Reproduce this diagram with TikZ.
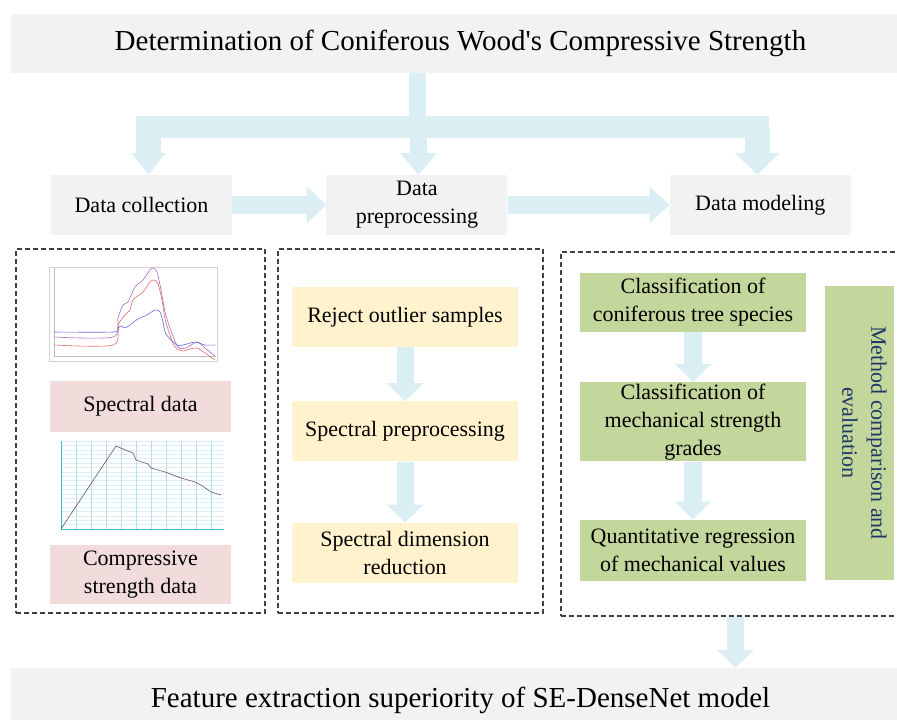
\documentclass[tikz,border=0pt]{standalone}
\usepackage{fontspec}
\setmainfont{Liberation Serif}
\usetikzlibrary{arrows.meta, positioning}

\definecolor{boxgray}{HTML}{F2F2F2}
\definecolor{flowblue}{HTML}{DAEEF3}
\definecolor{pinkbox}{HTML}{F2DCDB}
\definecolor{yellowbox}{HTML}{FFF2CC}
\definecolor{greenbox}{HTML}{C3D69B}
\definecolor{darkblue}{HTML}{1F3864}
\definecolor{dashgray}{HTML}{404040}
\definecolor{specpurple}{HTML}{A86CC8}
\definecolor{specred}{HTML}{E46A6A}
\definecolor{specblue}{HTML}{6A6AD8}
\definecolor{gridblue}{HTML}{B4DDF0}
\definecolor{gridfaint}{HTML}{DCEFF8}
\definecolor{axiscyan}{HTML}{3CB8D8}

\tikzstyle{title} = [rectangle, fill=boxgray, minimum width=899pt, inner sep=0pt, font=\fontsize{29}{34}\selectfont]
\tikzstyle{stage} = [rectangle, fill=boxgray, minimum width=181pt, minimum height=60pt, inner sep=0pt, align=center, font=\fontsize{22}{28}\selectfont]
\tikzstyle{item} = [rectangle, minimum width=226pt, inner sep=0pt, align=center, font=\fontsize{22}{28}\selectfont]
\tikzstyle{group} = [rectangle, draw=dashgray, line width=1.3pt, dash pattern=on 5pt off 3pt, inner sep=0pt]
\tikzstyle{flow} = [draw=flowblue, -{Triangle[length=19pt,width=35pt]}]

\begin{document}
\begin{tikzpicture}[x=1pt,y=-1pt]
\useasboundingbox (0,0) rectangle (897,720);

% head and result
\node (top) [title, minimum height=59pt] at (460.5,43.5) {Determination of Coniferous Wood\textquotesingle s Compressive Strength};
\node (fin) [title, minimum height=64pt] at (460.5,700) {Feature extraction superiority of SE-DenseNet model};

% three stages
\node (dc) [stage] at (141.5,205) {Data collection};
\node (dp) [stage, right=94pt of dc] {Data\\preprocessing};
\node (dm) [stage, right=162pt of dp] {Data modeling};

% dashed groups
\node (grpA) [group, minimum width=249pt, minimum height=364pt] at (140.5,431) {};
\node (grpB) [group, minimum width=265pt, minimum height=364pt] at (410.5,431) {};
\node (grpC) [group, minimum width=349pt, minimum height=364pt] at (735.5,434) {};

% data collection
\node (spec) [item, fill=pinkbox, minimum width=181pt, minimum height=51pt] at (140.5,406.5) {Spectral data};
\node (comp) [item, fill=pinkbox, minimum width=181pt, minimum height=59pt] at (140.5,574.5) {Compressive\\strength data};

% spectra
\draw[gray!35, line width=0.5pt] (49,267) rectangle (217,361);
\draw[gray!50, line width=0.4pt] (54,268) -- (54,356) -- (216,356);
\draw[specpurple, line width=0.6pt] plot[smooth, tension=0.5] coordinates {(54,337) (113,337) (118,318) (123,305) (128,302) (135,287) (143,280) (150,270) (153,268) (157,272) (161,290) (165,312) (170,328) (178,347) (186,348) (197,342) (205,348) (215,356)};
\draw[specred, line width=0.6pt] plot[smooth, tension=0.5] coordinates {(54,345) (113,345) (118,325) (125,315) (130,310) (133,300) (143,292) (150,282) (154,280) (158,284) (162,300) (165,319) (170,335) (175,347) (182,351) (190,349) (197,348) (205,353) (215,360)};
\draw[specblue, line width=0.6pt] plot[smooth, tension=0.5] coordinates {(54,332) (113,332) (118,328) (121,326) (125,328) (130,325) (138,319) (147,315) (155,310) (160,312) (163,322) (166,334) (177,345) (187,344) (195,342) (205,345) (215,345)};

% load curve
\foreach \k in {0,...,20}
  \draw[gridfaint, line width=0.4pt] (61,441+4.4*\k) -- (224,441+4.4*\k);
\foreach \gx in {61,76,...,221}
  \draw[gridblue, line width=0.4pt] (\gx,441) -- (\gx,529);
\draw[axiscyan, line width=0.8pt] (61,441) -- (61,529) -- (224,529);
\draw[gray!70!black, line width=0.6pt] (61,529) -- (116,446) -- (123,449) -- (133,453) -- (136,460) -- (148,464) -- (151,468) -- (165,472) -- (181,478) -- (195,482) -- (201,485) -- (211,492) -- (221,495);

% preprocessing
\node (rej) [item, fill=yellowbox, minimum height=60pt] at (405,317) {Reject outlier samples};
\node (spp) [item, fill=yellowbox, minimum height=60pt, below=54pt of rej] {Spectral preprocessing};
\node (sdr) [item, fill=yellowbox, minimum height=60pt, below=61pt of spp] {Spectral dimension\\reduction};

% modeling
\node (cts) [item, fill=greenbox, minimum height=59pt] at (693,302.5) {Classification of\\coniferous tree species};
\node (msg) [item, fill=greenbox, minimum height=79pt, below=50pt of cts] {Classification of\\mechanical strength\\grades};
\node (qrm) [item, fill=greenbox, minimum height=61pt, below=58pt of msg] {Quantitative regression\\of mechanical values};
\node (mce) [fill=greenbox, minimum width=69pt, minimum height=294pt, inner sep=0pt] at (859.5,433) {};
\node (mcetxt) [rotate=-90, align=center, inner sep=0pt, text=darkblue, font=\fontsize{22}{29}\selectfont] at ([xshift=5pt]mce.center) {Method comparison and\\evaluation};

% branch from the head
\coordinate (split) at (417.5,127);
\draw[flowblue, line width=17pt] (top.south -| split) -- ++(0,65);
\draw[flowblue, line width=22pt] (136,127) -- (769,127);
\draw[flow, line width=25pt, -{Triangle[length=22pt,width=33pt]}] ([xshift=7pt]dc.north |- split) -- ([xshift=7pt]dc.north);
\draw[flow, line width=17pt, -{Triangle[length=22pt,width=36pt]}] ([xshift=1.5pt]dp.north |- split) -- ([xshift=1.5pt]dp.north);
\draw[flow, line width=25pt, -{Triangle[length=22pt,width=44pt]}] ([xshift=-3pt]dm.north |- split) -- ([xshift=-3pt]dm.north);

% stage arrows
\draw[flow, line width=18pt] (dc) -- (dp);
\draw[flow, line width=18pt, -{Triangle[length=20pt,width=35pt]}] (dp) -- (dm);

% inner arrows
\draw[flow, line width=17pt, -{Triangle[length=18pt,width=36pt]}] (rej) -- (spp);
\draw[flow, line width=17pt, -{Triangle[length=18pt,width=36pt]}] (spp) -- (sdr);
\draw[flow, line width=18pt, -{Triangle[length=18pt,width=35pt]}] (cts) -- (msg);
\draw[flow, line width=18pt, -{Triangle[length=18pt,width=35pt]}] (msg) -- (qrm);

% to the result
\draw[flow, line width=17pt, -{Triangle[length=18pt,width=36pt]}] (grpC.south) -- (grpC.south |- fin.north);
\end{tikzpicture}
\end{document}
